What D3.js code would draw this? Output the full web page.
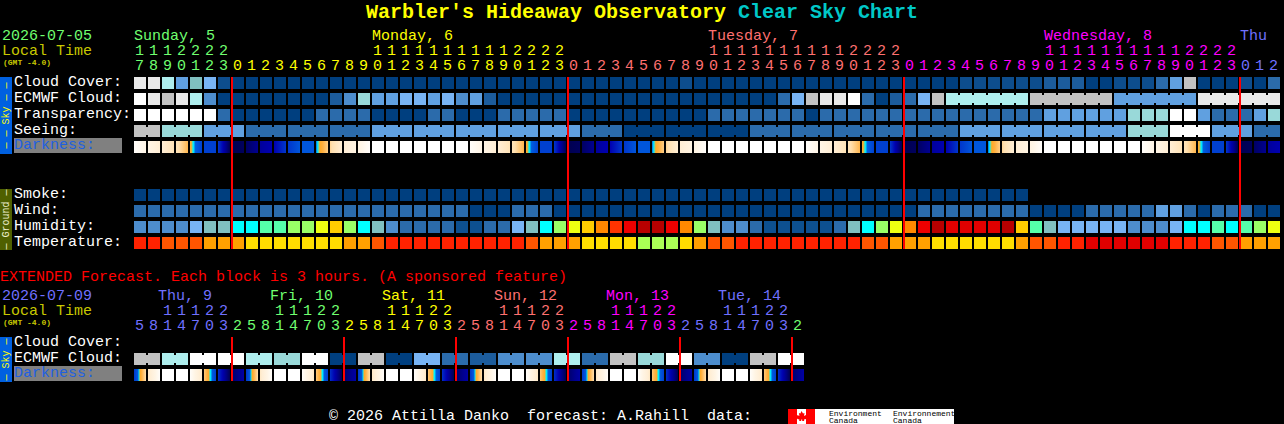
<!DOCTYPE html>
<html>
<head>
<meta charset="utf-8">
<title>Warbler's Hideaway Observatory Clear Sky Chart</title>
<script src="https://cdn.jsdelivr.net/npm/d3@7"></script>
<style>
  html, body { margin: 0; padding: 0; background: #000; overflow: hidden; }
  svg { display: block; }
  text { font-family: "Liberation Mono", monospace; font-size: 15px; white-space: pre; }
</style>
</head>
<body>
<div id="chart"></div>
<script>
// hours under each column
var hours = [17,18,19,20,21,22,23,
  0,1,2,3,4,5,6,7,8,9,10,11,12,13,14,15,16,17,18,19,20,21,22,23,
  0,1,2,3,4,5,6,7,8,9,10,11,12,13,14,15,16,17,18,19,20,21,22,23,
  0,1,2,3,4,5,6,7,8,9,10,11,12,13,14,15,16,17,18,19,20,21,22,23,
  0,1,2];
var extHours = [5,8,11,14,17,20,23,
  2,5,8,11,14,17,20,23, 2,5,8,11,14,17,20,23, 2,5,8,11,14,17,20,23,
  2,5,8,11,14,17,20,23, 2,5,8,11,14,17,20,23, 2];

// days : label, first column of the label, first column of the day
var dayNames = ["Sunday, 5","Monday, 6","Tuesday, 7","Wednesday, 8","Thu"];
var dayLabelCols = [0,17,41,65,79];
var dayCols = [0,7,31,55,79];
var extDayNames = ["Thu, 9","Fri, 10","Sat, 11","Sun, 12","Mon, 13","Tue, 14"];
var extDayLabelCols = [2,10,18,26,34,42];
var extDayCols = [0,7,15,23,31,39,47];
var midnightCols = [7,31,55,79];
var extMidnightCols = [7,15,23,31,39,47];

// sky rows, cloud levels 0 (clear) to 12 (overcast)
var cloudCover = [11,11,9,5,7,6,1,0,0,0,0,0,0,0,0,0,0,0,0,0,0,0,0,0,0,0,0,0,0,0,0,0,0,0,0,0,0,0,0,1,0,
  0,0,0,0,0,0,0,0,0,0,0,0,0,0,0,0,0,0,1,1,1,1,1,1,2,2,2,0,0,1,1,1,3,5,10,0,0,0,1,0,3];
var ecmwfCloud = [12,11,10,11,9,4,0,0,0,0,0,0,0,0,2,4,8,5,5,6,6,5,6,4,5,2,0,0,0,0,0,0,0,0,0,0,0,0,0,0,0,
  0,0,0,0,0,3,6,10,11,11,12,3,0,2,3,6,10,9,9,9,9,9,9,10,10,10,10,10,10,5,5,5,5,5,5,11,11,11,11,11,11];
var transparency = [12,12,12,12,12,12,3,0,0,0,0,0,0,3,3,3,3,0,0,0,0,3,3,0,0,0,3,3,3,3,3,0,0,0,0,0,0,0,0,0,0,
  3,3,3,3,3,3,3,0,3,3,3,3,3,3,3,3,3,3,3,3,3,3,3,3,5,5,5,5,5,5,8,8,8,12,12,5,3,3,3,5,8];
var seeing = [10,10,8,8,8,5,5,5,3,3,3,3,3,3,3,3,3,5,5,5,5,5,5,5,5,5,5,5,5,5,5,5,3,3,3,0,0,0,0,0,0,
  0,0,0,3,3,3,3,3,3,3,3,3,3,3,3,3,3,3,5,5,5,5,5,5,5,5,5,5,5,5,8,8,8,12,12,12,5,5,5,3,3];

// columns per forecast step, steps are drawn joined together
var seeingSteps = [2,3,3,3,3,3,3,3,3,3,3,3,3,3,3,3,3,3,3,3,3,3,3,3,3,3,3,2];
var ecmwfSteps = d3.range(58).map(function() { return 1; }).concat([6,6,6,6]);
var extEcmwfSteps = [2,2,2,2,2,2,2,2,2,2,2,2,2,2,2,2,2,2,2,2,2,2,2,2];

// darkness at the left and right edge of each block, 0 daylight to 8 full dark
var darkStart = [0.2,1,2,2.8,4,5,5.2,8,7.7,6.8,6.4,5.2,4.6,4.45,3.2,2,1.2,
  0,0,0,0,0,0,0,0.2,1,2,2.8,4,5,5.2,8,7.7,6.8,6.4,5.2,4.6,4.45,3.2,2,1.2,
  0,0,0,0,0,0,0,0.2,1,2,2.8,4,5,5.2,8,7.7,6.8,6.4,5.2,4.6,4.45,3.2,2,1.2,
  0,0,0,0,0,0,0,0.2,1,2,2.8,4,5,5.2,8,7.7,6.8];
var darkEnd = [1,2,2.8,3.7,5,5,8,7.8,7,6.4,5.2,4.6,4.6,3.3,2,1.2,0.2,
  0,0,0,0,0,0,0,1,2,2.8,3.7,5,5,8,7.8,7,6.4,5.2,4.6,4.6,3.3,2,1.2,0.2,
  0,0,0,0,0,0,0,1,2,2.8,3.7,5,5,8,7.8,7,6.4,5.2,4.6,4.6,3.3,2,1.2,0.2,
  0,0,0,0,0,0,0,1,2,2.8,3.7,5,5,8,7.8,7,6.4];

// ground rows
var smoke = [0,0,0,0,0,0,0,0,0,0,0,0,0,0,0,0,0,0,0,0,0,0,0,0,0,0,0,0,0,0,0,0,0,0,0,0,0,0,0,0,0,
  0,0,0,0,0,0,0,0,0,0,0,0,0,0,0,0,0,0,0,0,0,0,0];
var wind = [3,3,3,3,3,3,3,3,3,3,3,3,3,3,3,3,3,3,3,3,3,3,3,3,0,0,0,3,3,3,0,0,0,0,0,0,0,0,0,0,0,
  0,0,0,0,0,0,0,0,0,0,0,0,0,0,0,3,3,3,3,3,3,3,3,0,0,0,0,3,3,3,3,3,5,5,3,0,3,3,3,0,0];
var humidity = [35,35,35,35,40,45,45,50,50,55,55,60,60,65,70,60,50,45,35,30,30,30,30,25,25,30,30,40,45,50,60,
  65,70,75,80,85,95,95,85,75,60,45,35,35,30,25,25,25,25,25,30,45,50,60,65,75,85,95,90,90,90,90,95,70,55,45,
  40,40,40,40,40,35,35,35,40,50,50,55,50,55,60,65];
var temperature = [1,1,2,2,2,3,3,3,4,4,4,4,4,4,4,3,3,2,1,1,1,1,1,1,1,1,1,1,2,3,3,
  3,4,4,4,4,5,5,5,4,3,2,2,1,1,1,1,1,1,1,1,1,2,2,3,3,3,4,4,4,4,4,4,3,2,2,
  1,1,0,0,0,0,0,0,1,1,1,2,2,3,3,3];

// extended forecast, one value per 6 hour pair of blocks
var extEcmwfCloud = [10,9,12,12,9,8,12,0,10,0,6,3,2,4,4,9,3,10,8,12,4,0,10,12];
var extDarkStart = [5.2,2.4,0,0,0.2,3.4,5.4,7.6, 5.2,2.4,0,0,0.2,3.4,5.4,7.6, 5.2,2.4,0,0,0.2,3.4,5.4,7.6,
  5.2,2.4,0,0,0.2,3.4,5.4,7.6, 5.2,2.4,0,0,0.2,3.4,5.4,7.6, 5.2,2.4,0,0,0.2,3.4,5.4,7.6];
var extDarkEnd = [3,0.2,0,0,2.4,5,8,6.6, 3,0.2,0,0,2.4,5,8,6.6, 3,0.2,0,0,2.4,5,8,6.6,
  3,0.2,0,0,2.4,5,8,6.6, 3,0.2,0,0,2.4,5,8,6.6, 3,0.2,0,0,2.4,5,8,6.6];

var dayColors = ["#70ff70","#ffff00","#ff7070","#ff00ff","#7070ff"];
var extDayColors = ["#7070ff","#70ff70","#ffff00","#ff7070","#ff00ff","#7070ff","#70ff70"];

var cloudColor = d3.scaleOrdinal()
  .domain(d3.range(13))
  .range(["#003f7f","#0d4d8d","#1c5c9c","#2b6bab","#4d8dcd","#60a0e0","#78b4f4",
          "#80c0c0","#99d9d9","#aeeeee","#c2c2c2","#e9e9e9","#ffffff"]);
var humidityColor = d3.scaleOrdinal()
  .domain([25,30,35,40,45,50,55,60,65,70,75,80,85,90,95])
  .range(["#0d5090","#2b6bab","#4d8dcd","#78b4f4","#80c0c0","#00ffff","#55ffaa","#99ff66",
          "#eeff11","#ffcc00","#ff8800","#ff3300","#ee0000","#e00000","#b80000"]);
var temperatureColor = d3.scaleOrdinal()
  .domain([0,1,2,3,4,5])
  .range(["#e00000","#ff2200","#ff5500","#ffa000","#ffdd00","#aaff55"]);
var darkColor = d3.scaleLinear()
  .domain([0,1,2,3,3.8,4.15,4.2,4.33,4.42,5,6.4,7,8])
  .range(["#ffffff","#fff5e6","#ffeed5","#ffe0b0","#ffb040","#ffa820","#00ffff","#00e0ff","#0060e0",
          "#0040d0","#0000b0","#000090","#000050"])
  .clamp(true);

var svg = d3.select("#chart").append("svg").attr("width", 1284).attr("height", 424);
var defs = svg.append("defs");

var x = d3.scaleBand().domain(d3.range(hours.length)).range([134,1280]).paddingInner(1/7);
var extX = d3.scaleBand().domain(d3.range(extHours.length)).range([134,804]).paddingInner(1/7);

function label(str, px, py, color, size, weight) {
  return svg.append("text")
    .attr("x", px).attr("y", py)
    .attr("fill", color)
    .style("font-size", (size || 15) + "px")
    .style("font-weight", weight || "normal")
    .text(str);
}

function colorOfCol(cols, colors, c) {
  return colors[d3.bisectRight(cols, c) - 1];
}

// row of separate blocks
function blockRow(scale, values, color, y) {
  svg.append("g").attr("shape-rendering", "crispEdges")
    .selectAll("rect").data(values).enter().append("rect")
    .attr("x", function(d, i) { return scale(i); })
    .attr("y", y)
    .attr("width", scale.bandwidth())
    .attr("height", 12)
    .attr("fill", function(d) { return color(d); });
}

// narrow bridges between blocks that belong to one forecast step
function bridges(scale, values, color, y, steps) {
  var joins = [], col = 0;
  steps.forEach(function(n) {
    d3.range(col, col + n - 1).forEach(function(c) { joins.push(c); });
    col += n;
  });
  svg.append("g").attr("shape-rendering", "crispEdges")
    .selectAll("rect").data(joins).enter().append("rect")
    .attr("x", function(c) { return scale(c) + scale.bandwidth(); })
    .attr("y", y + 2)
    .attr("width", scale.step() - scale.bandwidth())
    .attr("height", 8)
    .attr("fill", function(c) { return color(values[c]); });
}

function darknessRow(scale, starts, ends, y, id) {
  var n = scale.bandwidth();
  var grads = defs.selectAll("linearGradient." + id).data(starts).enter().append("linearGradient")
    .attr("class", id)
    .attr("id", function(d, i) { return id + i; });
  grads.selectAll("stop")
    .data(function(d, i) {
      return d3.range(n + 1).map(function(k) { return starts[i] + (ends[i] - starts[i]) * k / n; });
    })
    .enter().append("stop")
    .attr("offset", function(d, k) { return k / n; })
    .attr("stop-color", function(d) { return darkColor(d); });
  svg.append("g").attr("shape-rendering", "crispEdges")
    .selectAll("rect").data(starts).enter().append("rect")
    .attr("x", function(d, i) { return scale(i); })
    .attr("y", y)
    .attr("width", n)
    .attr("height", 12)
    .attr("fill", function(d, i) { return "url(#" + id + i + ")"; });
}

function hourLabels(scale, hrs, cols, colors, yTens, yUnits) {
  var g = svg.append("g").attr("text-anchor", "middle");
  hrs.forEach(function(h, c) {
    var px = scale(c) + scale.bandwidth() / 2 - 0.5;
    var color = colorOfCol(cols, colors, c);
    if (h >= 10) {
      g.append("text").attr("x", px).attr("y", yTens).attr("fill", color).text(Math.floor(h / 10));
    }
    g.append("text").attr("x", px).attr("y", yUnits).attr("fill", color).text(h % 10);
  });
}

function sideBar(y, h, fill, textColor, str) {
  svg.append("rect").attr("x", 0).attr("y", y).attr("width", 12).attr("height", h)
    .attr("fill", fill).attr("shape-rendering", "crispEdges");
  svg.append("text")
    .attr("transform", "translate(9," + (y + h / 2) + ") rotate(-90)")
    .attr("text-anchor", "middle")
    .attr("fill", textColor)
    .style("font-size", "10px")
    .text(str);
}

function redLines(scale, cols, y1, y2) {
  svg.append("g").attr("shape-rendering", "crispEdges")
    .selectAll("rect").data(cols).enter().append("rect")
    .attr("x", function(c) { return scale(c) - 1; })
    .attr("y", y1)
    .attr("width", 2)
    .attr("height", y2 - y1)
    .attr("fill", "#ff0000");
}

function darknessLabel(y) {
  svg.append("rect").attr("x", 14).attr("y", y).attr("width", 108).attr("height", 15)
    .attr("fill", "#808080").attr("shape-rendering", "crispEdges");
  label("Darkness:", 14, y + 11, "#2060e0");
}

// title
var title = svg.append("text").attr("x", 366).attr("y", 18).style("font-size", "20px").style("font-weight", "bold");
title.append("tspan").attr("fill", "#ffff00").text("Warbler's Hideaway Observatory ");
title.append("tspan").attr("fill", "#00c8c8").text("Clear Sky Chart");

// main header
label("2026-07-05", 2, 40, "#70ff70");
label("Local Time", 2, 55, "#c8c800");
label("(GMT -4.0)", 3, 65, "#c8c800", 8, "bold");
dayNames.forEach(function(name, i) {
  label(name, x(dayLabelCols[i]), 40, dayColors[i]);
});
hourLabels(x, hours, dayCols, dayColors, 55, 70);

// main rows
sideBar(77, 77, "#0060e0", "#ffff00", "— — Sky — —");
label("Cloud Cover:", 14, 86, "#ffffff");
label("ECMWF Cloud:", 14, 102, "#ffffff");
label("Transparency:", 14, 118, "#ffffff");
label("Seeing:", 14, 134, "#ffffff");
darknessLabel(138);
blockRow(x, cloudCover, cloudColor, 77);
blockRow(x, ecmwfCloud, cloudColor, 93);
bridges(x, ecmwfCloud, cloudColor, 93, ecmwfSteps);
blockRow(x, transparency, cloudColor, 109);
blockRow(x, seeing, cloudColor, 125);
bridges(x, seeing, cloudColor, 125, seeingSteps);
darknessRow(x, darkStart, darkEnd, 141, "dark");

sideBar(189, 61, "#4f6000", "#f0f0d0", "— Ground —");
label("Smoke:", 14, 198, "#ffffff");
label("Wind:", 14, 214, "#ffffff");
label("Humidity:", 14, 230, "#ffffff");
label("Temperature:", 14, 246, "#ffffff");
blockRow(x, smoke, cloudColor, 189);
blockRow(x, wind, cloudColor, 205);
blockRow(x, humidity, humidityColor, 221);
blockRow(x, temperature, temperatureColor, 237);

redLines(x, midnightCols, 77, 249);

// extended forecast
var extEcmwf = [];
extEcmwfCloud.forEach(function(v) { extEcmwf.push(v, v); });

label("EXTENDED Forecast. Each block is 3 hours. (A sponsored feature)", 0, 281, "#ff0000");
label("2026-07-09", 2, 300, "#7070ff");
label("Local Time", 2, 315, "#c8c800");
label("(GMT -4.0)", 3, 325, "#c8c800", 8, "bold");
extDayNames.forEach(function(name, i) {
  label(name, extX(extDayLabelCols[i]) - 4, 300, extDayColors[i]);
});
hourLabels(extX, extHours, extDayCols, extDayColors, 315, 330);

sideBar(337, 45, "#0060e0", "#ffff00", "— Sky —");
label("Cloud Cover:", 14, 346, "#ffffff");
label("ECMWF Cloud:", 14, 362, "#ffffff");
darknessLabel(366);
blockRow(extX, extEcmwf, cloudColor, 353);
bridges(extX, extEcmwf, cloudColor, 353, extEcmwfSteps);
darknessRow(extX, extDarkStart, extDarkEnd, 369, "extdark");
redLines(extX, extMidnightCols, 337, 381);

// footer
label("© 2026 Attilla Danko  forecast: A.Rahill  data:", 329, 420, "#ffffff");
svg.append("rect").attr("x", 788).attr("y", 409).attr("width", 166).attr("height", 15)
  .attr("fill", "#ffffff").attr("shape-rendering", "crispEdges");
svg.append("rect").attr("x", 788).attr("y", 409).attr("width", 9).attr("height", 15).attr("fill", "#ff0000");
svg.append("rect").attr("x", 806).attr("y", 409).attr("width", 9).attr("height", 15).attr("fill", "#ff0000");
svg.append("path")
  .attr("d", "M801.5 411l1.5 2.5 1.5-.5-.5 3 2-1 .5 1.5 1-.5-1.5 3-2 .5.2 1.5h-2v-1.5h-1v1.5h-2l.2-1.5-2-.5-1.5-3 1 .5.5-1.5 2 1-.5-3 1.5.5z")
  .attr("fill", "#ff0000");
label("Environment", 829, 416, "#000000", 8);
label("Canada", 829, 423, "#000000", 8);
label("Environnement", 893, 416, "#000000", 8);
label("Canada", 893, 423, "#000000", 8);
</script>
</body>
</html>
